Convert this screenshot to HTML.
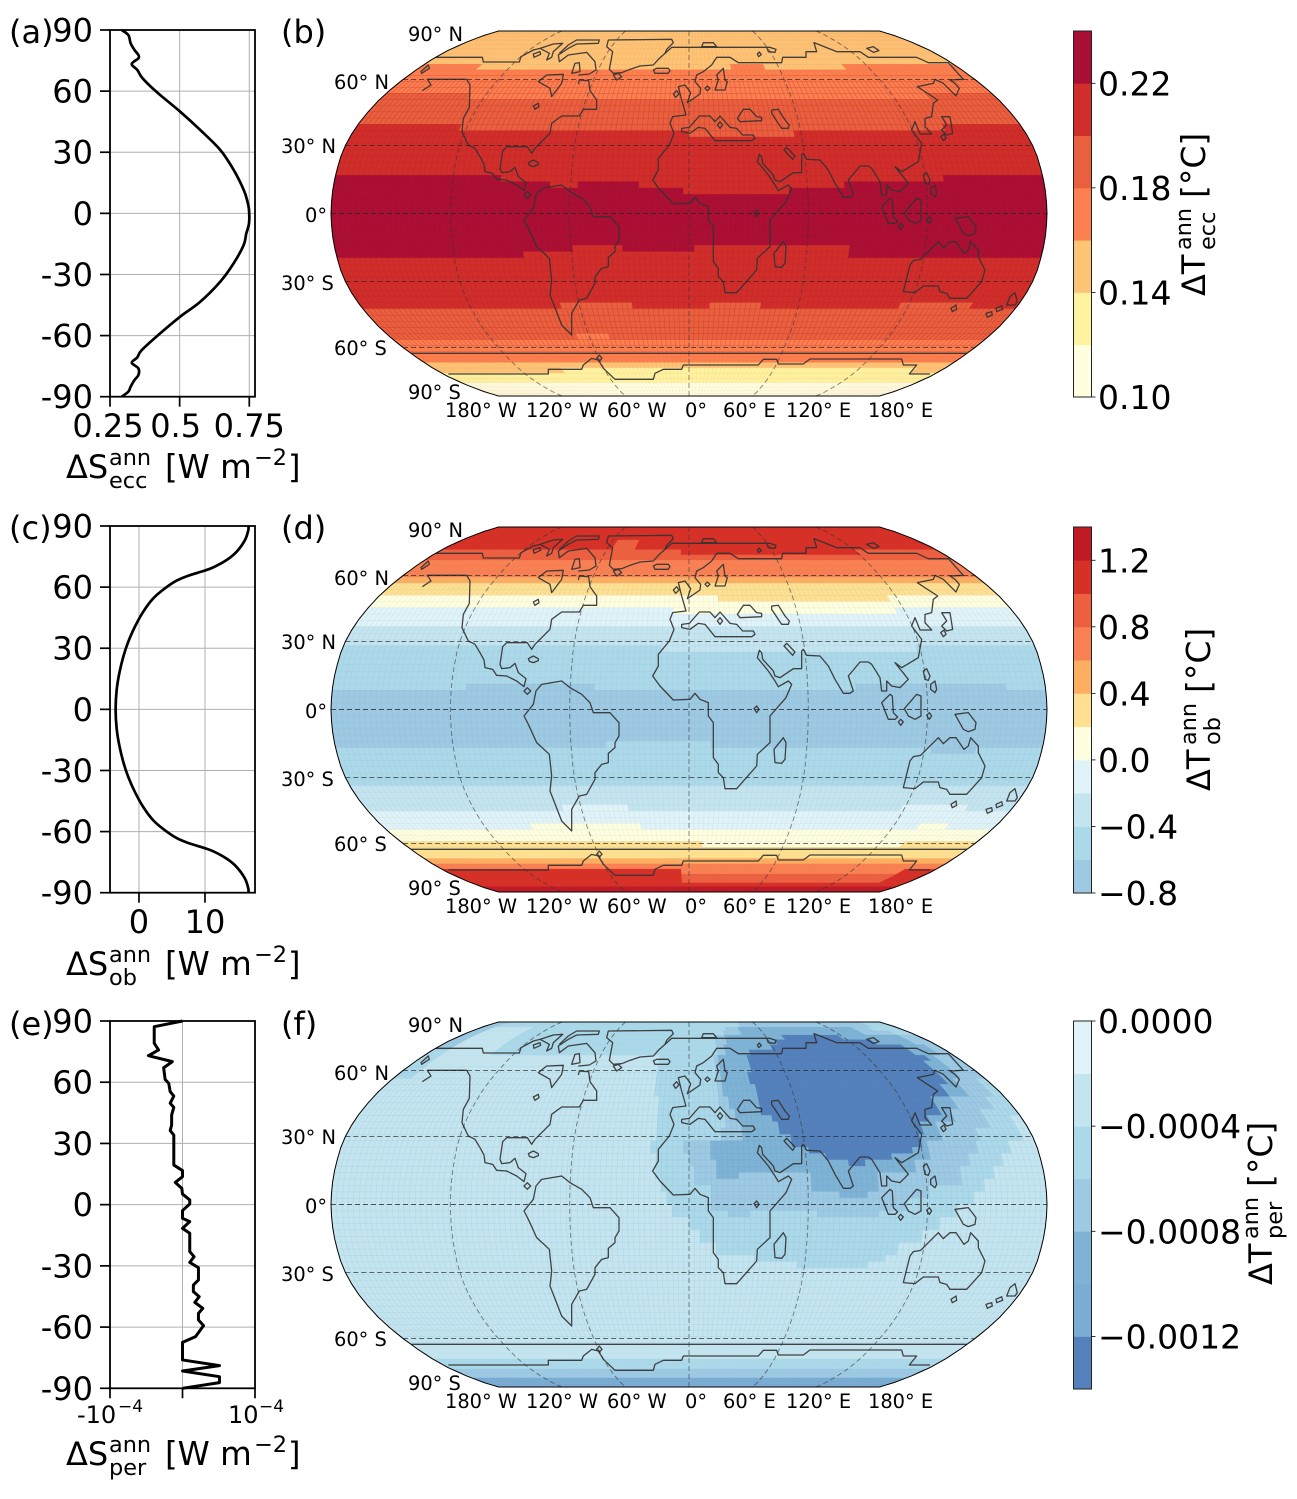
<!DOCTYPE html>
<html lang="en">
<head>
<meta charset="utf-8">
<title>Orbital forcing and temperature response</title>
<style>
html,body{margin:0;padding:0;background:#fff;}
svg{display:block;}
text{font-family:"DejaVu Sans","Liberation Sans",sans-serif;fill:#000;}
</style>
</head>
<body>
<svg id="figure" xmlns="http://www.w3.org/2000/svg" width="1297" height="1499" viewBox="0 0 1297 1499"></svg>
<script>
/* ---------- profile panels: latitude and zonal-mean forcing ---------- */
const latTicks = [90,60,30,0,-30,-60,-90];
const latTickLabels = ['90','60','30','0','-30','-60','-90'];

const eccLats = [90,87.5,83.5,80.2,77.7,76.1,73.3,70.4,66.8,62.5,58.1,49.9,40.9,31.1,21.3,11.5,6,1.6,-4.9,-10,-15.5,-24.5,-33.5,-43.4,-50.7,-58.9,-67.1,-70.7,-73.3,-76.1,-79.4,-81.8,-85.1,-87.5,-90];
const eccValues = [0.292,0.316,0.324,0.338,0.352,0.352,0.328,0.348,0.364,0.394,0.43,0.502,0.574,0.646,0.694,0.73,0.743,0.749,0.749,0.739,0.73,0.694,0.646,0.574,0.502,0.43,0.364,0.348,0.328,0.352,0.352,0.338,0.324,0.316,0.292];
const eccXTicks = [0.25,0.5,0.75];
const eccXLabels = ['0.25','0.5','0.75'];

const obLats = [90,88,83.1,77.4,73.3,69.7,67.9,65.6,63.2,59.4,54.5,48,40.6,33.2,25.9,17.7,9.5,0,-9.5,-17.7,-25.9,-33.2,-40.6,-48,-54.5,-59.4,-63.2,-65.6,-67.9,-69.7,-73.3,-77.4,-83.1,-88,-90];
const obValues = [16.57,16.57,16.06,14.8,13.28,11.26,9.75,7.47,5.71,3.94,2.17,0.66,-0.61,-1.62,-2.37,-2.98,-3.38,-3.54,-3.38,-2.98,-2.37,-1.62,-0.61,0.66,2.17,3.94,5.71,7.47,9.75,11.26,13.28,14.8,16.06,16.57,16.57];
const obXTicks = [0,10];
const obXLabels = ['0','10'];

const perLats = [90,87.2,79.1,75.8,73,70.1,67.1,61.4,59.5,55.4,53.2,49.7,47.7,43.9,39,36.3,34.1,19.4,16.7,13.7,10.9,8,5.2,2.3,0.3,-2.9,-6.7,-8.3,-11.6,-14,-23,-25.5,-28.3,-30.9,-36.9,-39.4,-42.6,-45.1,-47.9,-50.8,-53.3,-56.5,-59.3,-64.7,-67.5,-76.1,-78.9,-81.5,-84.3,-87.2,-90];
const perValues = [0,-0.39,-0.39,-0.33,-0.47,-0.14,-0.26,-0.24,-0.19,-0.17,-0.12,-0.17,-0.12,-0.15,-0.15,-0.17,-0.12,-0.12,0,0,-0.1,-0.01,0,0.1,0.1,0,0,0.1,0,0.1,0.1,0.16,0.1,0.22,0.22,0.15,0.15,0.23,0.17,0.28,0.22,0.22,0.29,0.18,0,0,0.51,0,0.51,0.51,0];
const perXTicks = [-1,0,1];

/* ---------- map panels: one value per latitude row (north to south), plus regional departures ---------- */
const levelsEcc = [0.10,0.12,0.14,0.16,0.18,0.20,0.22,0.24];
const coloursEcc = ['#ffffdf','#fff3a0','#fec476','#fb7f4f','#e8603e','#cf2e2b','#a90e35'];
const cbTicksEcc = [0.10,0.14,0.18,0.22];
const cbLabelsEcc = ['0.10','0.14','0.18','0.22'];
const zonalEcc = [
0.15,0.15,0.15,0.15,0.15,0.15,0.15,0.15,
0.17,0.17,0.17,0.17,0.17,
0.19,0.19,0.19,0.19,0.19,
0.21,0.21,0.21,0.21,0.21,0.21,0.21,0.21,
0.23,0.23,0.23,0.23,0.23,0.23,0.23,0.23,0.23,0.23,0.23,0.23,0.23,
0.21,0.21,0.21,0.21,0.21,0.21,0.21,0.21,
0.19,0.19,0.19,0.19,0.19,
0.17,0.17,0.17,0.17,
0.15,0.15,
0.13,0.13,
0.11,0.11,0.11,0.11];
/* rowFrom,rowTo,lonFrom,lonTo,value */
const regionsEcc = [
[8,8,-140,27,0.15],[8,8,51,104,0.15],
[13,13,-130,140,0.17],
[18,18,-123,138,0.19],[19,19,0,55,0.19],
[26,26,-97,129,0.21],
[27,27,-70,-56,0.21],[27,27,-26,79,0.21],
[28,28,-3,50,0.21],
[37,37,-60,-34,0.21],[37,37,3,81,0.21],
[38,38,-85,81,0.21],
[46,46,-71,-31,0.19],[46,46,11,39,0.19],[46,46,115,155,0.19],
[51,51,-67,-47,0.17],
[57,57,-89,161,0.13]];

const levelsOb = [-0.8,-0.6,-0.4,-0.2,0,0.2,0.4,0.6,0.8,1.0,1.2,1.4];
const coloursOb = ['#9dc9e2','#acd9e9','#c4e5ef','#e0f3f8','#ffffdf','#fee090','#fdae61','#f98052','#ec6040','#d73027','#c01a27'];
const cbTicksOb = [-0.8,-0.4,0,0.4,0.8,1.2];
const cbLabelsOb = ['\u22120.8','\u22120.4','0.0','0.4','0.8','1.2'];
const zonalOb = [
1.1,1.1,1.1,1.1,1.1,1.1,
0.9,0.9,
0.7,0.7,0.7,
0.5,
0.3,0.3,
0.1,0.1,
-0.1,-0.1,-0.1,
-0.3,-0.3,-0.3,
-0.5,-0.5,-0.5,-0.5,-0.5,-0.5,-0.5,
-0.7,-0.7,-0.7,-0.7,-0.7,-0.7,-0.7,-0.7,-0.7,
-0.5,-0.5,-0.5,-0.5,-0.5,-0.5,
-0.3,-0.3,-0.3,-0.3,
-0.1,-0.1,-0.1,
0.1,0.1,
0.3,0.3,0.3,
0.5,
0.7,
1.1,1.1,1.1,1.1,
1.3,1.3];
const regionsOb = [
[4,5,-56,-38,0.9],[6,6,-6,121,1.1],
[14,14,17,115,0.3],[16,16,-9,116,0.1],[22,22,-15,118,-0.3],
[28,28,-112,-48,-0.7],[28,28,84,160,-0.7],
[37,37,-41,11,-0.5],[38,38,123,147,-0.7],
[47,47,-71,-34,-0.1],[47,47,117,154,-0.1],
[50,50,-92,-28,0.1],[50,50,135,152,0.1],
[53,53,8,136,0.1],
[58,58,-7,157,0.7],[59,60,-7,157,0.9]];

const levelsPer = [-0.0014,-0.0012,-0.001,-0.0008,-0.0006,-0.0004,-0.0002,0];
const coloursPer = ['#5480bb','#7bacd3','#7fb3d5','#9dc9e3','#acd9e9','#c4e5ef','#e0f3f8'];
const cbTicksPer = [0,-0.0004,-0.0008,-0.0012];
const cbLabelsPer = ['0.0000','\u22120.0004','\u22120.0008','\u22120.0012'];
const zonalPer = [
-0.0005,-0.0005,
-0.0003,-0.0003,-0.0003,-0.0003,-0.0003,-0.0003,-0.0003,-0.0003,-0.0003,-0.0003,-0.0003,-0.0003,-0.0003,-0.0003,
-0.0003,-0.0003,-0.0003,-0.0003,-0.0003,-0.0003,-0.0003,-0.0003,-0.0003,-0.0003,-0.0003,-0.0003,-0.0003,-0.0003,
-0.0003,-0.0003,-0.0003,-0.0003,-0.0003,-0.0003,-0.0003,-0.0003,-0.0003,-0.0003,-0.0003,-0.0003,-0.0003,-0.0003,
-0.0003,-0.0003,-0.0003,-0.0003,-0.0003,-0.0003,-0.0003,-0.0003,-0.0003,-0.0003,-0.0003,-0.0003,-0.0003,
-0.0005,-0.0005,
-0.0007,-0.0007,
-0.0011,-0.0011,-0.0011];
const regionsPer = [
/* outer halo */
[2,7,-135,180,-0.0005],[8,14,-20,180,-0.0005],[15,17,-18,180,-0.0005],[18,21,-18,173,-0.0005],
[22,23,-20,165,-0.0005],[24,25,-18,160,-0.0005],[26,27,-16,154,-0.0005],[28,29,-14,148,-0.0005],
[30,31,-10,143,-0.0005],[32,33,-8,134,-0.0005],[34,35,0,126,-0.0005],[36,37,6,118,-0.0005],
[38,39,13,107,-0.0005],[40,40,33,101,-0.0005],[41,41,56,92,-0.0005],
[0,6,-180,-168,-0.0007],[7,8,-180,-168,-0.0005],[9,11,-180,-170,-0.0005],
/* second ring */
[0,1,46,160,-0.0007],[2,2,32,156,-0.0007],[3,3,28,166,-0.0007],[4,5,21,180,-0.0007],[6,7,19,180,-0.0007],
[8,9,17,180,-0.0007],[10,11,16,180,-0.0007],[12,14,16,175,-0.0007],[15,16,17,169,-0.0007],
[17,19,19,161,-0.0007],[20,21,18,151,-0.0007],[22,23,-3,150,-0.0007],[24,25,1,144,-0.0007],
[26,28,2,137,-0.0007],[29,30,11,120,-0.0007],[31,32,11,110,-0.0007],[33,33,20,31,-0.0007],[33,33,64,95,-0.0007],
/* third ring */
[2,3,42,140,-0.0009],[4,5,29,167,-0.0009],[6,7,25,172,-0.0009],[8,9,20,165,-0.0009],[10,11,20,167,-0.0009],
[12,14,20,159,-0.0009],[15,16,23,150,-0.0009],[17,18,24,144,-0.0009],[19,21,27,133,-0.0009],
[22,24,11,125,-0.0009],[25,26,14,115,-0.0009],[27,27,14,25,-0.0009],[27,27,62,95,-0.0009],[28,29,61,97,-0.0009],[30,30,76,91,-0.0009],
/* core */
[4,4,72,117,-0.0013],[5,5,64,139,-0.0013],[6,6,58,154,-0.0013],[7,7,43,156,-0.0013],[8,8,38,160,-0.0013],
[9,10,38,156,-0.0013],[11,12,37,154,-0.0013],[13,14,38,148,-0.0013],[15,17,38,138,-0.0013],[18,18,44,128,-0.0013],
[19,20,48,124,-0.0013],[21,22,54,120,-0.0013],[23,23,61,114,-0.0013],[24,24,71,105,-0.0013],[25,25,81,91,-0.0013]];

/* Base-map coastline, low-resolution land-mask contour (drawn in a 3x reference frame) */
const coastlines = [
'M307,212L333,195L322,178L385,178L440,178L450,195L448,262L430,295L426,335L445,375L465,385L480,410L492,432L495,455L518,460L530,478L560,480L590,495L612,512L618,488L595,470L585,442L570,455L545,458L540,445L548,392L560,380L622,380L635,400L645,385L690,340L695,310L725,288L778,288L790,268L830,268L830,240L810,212L806,182L778,180L775,192',
'M345,112L487,112L490,126L598,126L603,110L640,90L660,85L700,72L728,70L700,95L695,112L680,120L688,100L660,85',
'M303,155L325,135L328,145L305,160Z',
'M775,165L808,162L828,150L825,125L800,97L745,105L718,125L715,105L745,85L770,72L835,70L838,60L770,60L745,75L718,100',
'M655,185L680,165L730,163L725,190L695,230L690,205Z',
'M755,160L765,130L778,128L780,155Z',
'M640,102L660,95L662,103L642,112Z',
'M865,60L1055,58L1060,68L1040,88L1035,100L1018,115L1000,135L960,138L930,148L905,158L880,160L868,148L878,95L860,80Z',
'M880,165L895,160L905,170L890,180Z',
'M1000,150L1010,145L1045,145L1050,152L1045,160L1005,160Z',
'M1035,100L1055,82L1350,82L1368,88L1365,97L1345,95L1340,82',
'M1145,80L1150,68L1180,68L1190,80Z',
'M1312,102L1318,96L1324,104L1316,110Z',
'M1640,85L1660,80L1677,92L1660,97Z',
'M1050,310L1058,290L1098,285L1085,240L1075,200L1095,195L1112,218L1102,248L1140,222L1142,205L1125,185L1130,165L1150,155L1175,135L1190,112L1230,112L1255,128L1385,128L1388,112L1458,112L1458,95L1490,95L1482,68L1550,95L1620,95L1645,112L1790,112L1825,128L1885,128L1930,178L1890,180L1905,190L1918,205L1908,228L1870,190L1845,178L1840,190L1792,200L1853,240L1840,250L1835,290L1815,295L1815,320L1835,342L1800,342L1785,305L1775,330L1805,370L1795,425L1770,440L1745,455L1725,440L1765,490L1740,515L1715,510L1700,495L1700,525L1685,525L1680,485L1655,445L1645,438L1620,438L1585,480L1600,525L1590,532L1570,532L1545,490L1525,450L1500,420L1460,418L1450,400L1445,405L1445,458L1420,458L1380,485L1365,480L1360,465L1328,430L1325,410L1318,403L1312,425L1345,465L1365,495L1375,512L1405,495L1415,505L1398,545L1350,600L1350,680L1312,715L1310,750L1250,818L1215,818L1210,785L1195,770L1195,745L1180,725L1180,620L1165,600L1165,560L1140,550L1125,532L1110,550L1060,552L1020,510L998,480L1015,450L1015,415L1048,375L1062,340L1050,310Z',
'M1108,322L1138,288L1170,288L1185,305L1200,288L1230,322L1250,325L1268,345L1300,345L1305,355L1295,362L1185,362L1155,325L1135,322L1110,340L1085,335L1085,325Z',
'M1060,222L1070,212L1077,222L1067,232Z',
'M1155,205L1162,198L1170,205L1162,212Z',
'M1190,165L1210,145L1215,180L1222,185L1215,210L1185,210L1195,180Z',
'M1252,295L1270,268L1290,268L1310,290L1325,292L1325,302L1260,305Z',
'M1355,270L1375,268L1395,300L1408,315L1405,325L1385,325L1355,280Z',
'M1192,315L1200,305L1208,315L1200,325Z',
'M1392,390L1400,382L1425,408L1418,418Z',
'M1865,290L1890,290L1898,340L1880,345L1865,330L1880,315Z',
'M1862,350L1872,342L1878,355L1870,362Z',
'M1810,465L1820,458L1830,480L1825,493L1815,490Z',
'M1832,505L1845,495L1850,520L1845,530L1832,520Z',
'M1685,560L1710,535L1717,540L1720,590L1733,603L1725,610L1705,610Z',
'M1753,578L1790,535L1803,540L1803,600L1785,610L1765,600Z',
'M1735,618L1742,610L1750,618L1742,628Z',
'M1820,598L1828,590L1835,600L1828,610Z',
'M1905,595L1945,590L1968,620L1965,640L1945,647L1930,640Z',
'M1750,815L1770,735L1780,722L1802,718L1855,665L1870,683L1890,665L1908,665L1932,700L1945,690L1952,665L1975,690L1975,710L1995,750L1985,785L1940,835L1890,835L1880,820L1860,815L1855,798L1810,798L1785,818Z',
'M1893,865L1908,855L1910,868L1897,875Z',
'M2060,855L2070,830L2085,818L2092,845L2085,855Z',
'M2028,865L2045,857L2048,868L2030,875Z',
'M1998,880L2015,875L2017,885L2002,892Z',
'M1362,700L1390,665L1398,680L1395,730L1385,742L1365,740Z',
'M1302,578L1310,570L1317,580L1310,590Z',
'M612,600L640,565L648,525L665,505L725,495L750,515L785,535L810,560L820,590L870,590L897,620L897,660L885,680L885,695L865,712L865,740L845,745L825,770L825,790L800,835L778,840L755,880L755,945L725,915L690,825L695,780L688,715L650,680L625,625Z',
'M625,428L640,420L655,428L655,434L640,440L628,436Z',
'M612,525L622,515L632,525L622,535Z',
'M640,258L655,250L657,260L645,268Z',
'M250,1000L1950,1000',
'M385,1062L685,1062L685,1048L785,1048L790,1035L815,1015L835,1020L850,1045L885,1078L1000,1078L1005,1060L1030,1048L1085,1048L1090,1035L1315,1035L1330,1018L1370,1018L1375,1032L1450,1032L1470,1017L1745,1017L1750,1035L1790,1035L1768,1062L1830,1062',
'M830,1015L838,1005L846,1015L838,1023Z'];

/* ---------- helpers ---------- */
const NS = 'http://www.w3.org/2000/svg';
const fig = document.getElementById('figure');
function node(tag, parent, attrs, name) {
  const el = document.createElementNS(NS, tag);
  for (const k in attrs) el.setAttribute(k, attrs[k]);
  
  
  parent.appendChild(el);
  return el;
}
function label(parent, str, x, y, size, anchor, name) {
  const el = node('text', parent, {x:x, y:y, 'font-size':size, 'text-anchor':anchor || 'start'}, name);
  el.textContent = str;
  return el;
}

/* Robinson projection table */
const robX = [1,0.9986,0.9954,0.99,0.9822,0.973,0.96,0.9427,0.9216,0.8962,0.8679,0.835,0.7986,0.7597,0.7186,0.6732,0.6213,0.5722,0.5322];
const robY = [0,0.062,0.124,0.186,0.248,0.31,0.372,0.434,0.4958,0.5571,0.6176,0.6769,0.7346,0.7903,0.8435,0.8936,0.9394,0.9761,1];
function rob(lon, lat, top) {
  const a = Math.min(Math.abs(lat), 90) / 5;
  const i = Math.min(Math.floor(a), 17);
  const f = a - i;
  const X = robX[i] + (robX[i+1] - robX[i]) * f;
  const Y = robY[i] + (robY[i+1] - robY[i]) * f;
  return [689 + 358 * X * lon / 180, top + 182.5 - Math.sign(lat) * 182.5 * Y];
}
function pathFrom(pts, close) {
  return 'M' + pts.map(p => p[0].toFixed(2) + ',' + p[1].toFixed(2)).join('L') + (close ? 'Z' : '');
}
function smoothPath(pts) {
  let d = 'M' + pts[0][0].toFixed(2) + ',' + pts[0][1].toFixed(2);
  for (let i = 0; i < pts.length - 1; i++) {
    const p0 = pts[Math.max(i - 1, 0)], p1 = pts[i], p2 = pts[i + 1], p3 = pts[Math.min(i + 2, pts.length - 1)];
    const c1x = p1[0] + (p2[0] - p0[0]) / 6, c1y = p1[1] + (p2[1] - p0[1]) / 6;
    const c2x = p2[0] - (p3[0] - p1[0]) / 6, c2y = p2[1] - (p3[1] - p1[1]) / 6;
    d += 'C' + c1x.toFixed(2) + ',' + c1y.toFixed(2) + ' ' + c2x.toFixed(2) + ',' + c2y.toFixed(2) + ' ' + p2[0].toFixed(2) + ',' + p2[1].toFixed(2);
  }
  return d;
}

/* ---------- profile panel ---------- */
function drawProfile(spec) {
  const g = node('g', fig, {}, spec.name);
  const L = 110, R = 255, T = spec.top, B = spec.bottom;
  const px = v => L + (v - spec.xMin) * (R - L) / (spec.xMax - spec.xMin);
  const py = lat => T + (90 - lat) * (B - T) / 180;
  latTicks.forEach((t, i) => {
    if (Math.abs(t) < 90) node('line', g, {x1:L, x2:R, y1:py(t), y2:py(t), stroke:'#b0b0b0', 'stroke-width':1}, 'lat-gridline');
    node('line', g, {x1:L-10, x2:L, y1:py(t), y2:py(t), stroke:'#000', 'stroke-width':1.7}, 'lat-tick');
    label(g, latTickLabels[i], 93, py(t) + 11.5, 32, 'end', 'lat-tick-label');
  });
  spec.xTicks.forEach(t => {
    if (px(t) > L + 1 && px(t) < R - 1) node('line', g, {x1:px(t), x2:px(t), y1:T, y2:B, stroke:'#b0b0b0', 'stroke-width':1}, 'x-gridline');
    node('line', g, {x1:px(t), x2:px(t), y1:B, y2:B+10, stroke:'#000', 'stroke-width':1.7}, 'x-tick');
  });
  const pts = spec.lats.map((lat, i) => [px(spec.values[i]), py(lat)]);
  node('path', g, {d:spec.smooth ? smoothPath(pts) : pathFrom(pts), fill:'none', stroke:'#000', 'stroke-width':spec.lineWidth, 'stroke-linejoin':'round'}, spec.lineName);
  node('rect', g, {x:L, y:T, width:R-L, height:B-T, fill:'none', stroke:'#000', 'stroke-width':1.8}, 'axes-frame');
  return {g:g, px:px};
}
function axisTitle(baseY, sub, name) {
  const g = node('g', fig, {}, name);
  label(g, '\u0394S', 66, baseY, 32, 'start', 'title-symbol');
  label(g, 'ann', 109, baseY - 13, 22.4, 'start', 'title-superscript');
  label(g, sub, 109, baseY + 10, 22.4, 'start', 'title-subscript');
  label(g, '[W m', 165, baseY, 32.5, 'start', 'title-unit');
  label(g, '\u22122', 254, baseY - 13, 22.4, 'start', 'title-unit-exponent');
  label(g, ']', 288, baseY, 32, 'start', 'title-unit-close');
}

/* ---------- map panel ---------- */
const ROWS = 64, COLS = 128, DLAT = 180 / ROWS, DLON = 360 / COLS;
let clipCount = 0;
function drawMap(spec) {
  const g = node('g', fig, {}, spec.name);
  const top = spec.top;
  const outline = [];
  for (let lat = 90; lat >= -90; lat -= 2.5) outline.push(rob(180, lat, top));
  for (let lat = -90; lat <= 90; lat += 2.5) outline.push(rob(-180, lat, top));
  const outlineD = pathFrom(outline, true);
  const clipId = 'map-clip-' + (++clipCount);
  const clip = node('clipPath', g, {id:clipId}, 'map-clip');
  node('path', clip, {d:outlineD}, 'map-clip-shape');
  node('path', g, {d:outlineD, fill:spec.colours[0]}, 'map-background');
  const cells = node('g', g, {'clip-path':'url(#' + clipId + ')'}, 'map-field');
  const colourOf = v => {
    for (let i = 0; i < spec.colours.length; i++) if (v <= spec.levels[i+1]) return spec.colours[i];
    return spec.colours[spec.colours.length - 1];
  };
  for (let r = 0; r < ROWS; r++) {
    const latN = 90 - r * DLAT, latS = latN - DLAT;
    const cols = [];
    for (let c = 0; c < COLS; c++) {
      const lon = -180 + (c + 0.5) * DLON;
      let v = spec.zonal[r];
      spec.regions.forEach(p => { if (r >= p[0] && r <= p[1] && lon >= p[2] && lon <= p[3]) v = p[4]; });
      cols.push(v);
    }
    let start = 0;
    for (let c = 1; c <= COLS; c++) {
      if (c === COLS || colourOf(cols[c]) !== colourOf(cols[start])) {
        const a = -180 + start * DLON, b = -180 + c * DLON;
        const poly = [rob(a, latN, top), rob(b, latN, top), rob(b, latS, top), rob(a, latS, top)];
        const col = colourOf(cols[start]);
        node('path', cells, {d:pathFrom(poly, true), fill:col, stroke:col, 'stroke-width':0.5}, 'temperature-cell-run');
        start = c;
      }
    }
  }
  /* cell mesh: fainter toward the poles where meridians converge */
  let meshCore = '', meshPolar = '';
  for (let r = 0; r <= ROWS; r++) {
    const lat = 90 - r * DLAT, seg = pathFrom([rob(-180, lat, top), rob(180, lat, top)]);
    if (Math.abs(lat) <= 62) meshCore += seg; else meshPolar += seg;
  }
  for (let c = 0; c <= COLS; c++) {
    const lon = -180 + c * DLON, core = [], north = [], south = [];
    for (let lat = 90; lat >= -90; lat -= 5) {
      if (lat >= 60) north.push(rob(lon, lat, top));
      if (lat <= 60 && lat >= -60) core.push(rob(lon, lat, top));
      if (lat <= -60) south.push(rob(lon, lat, top));
    }
    meshCore += pathFrom(core);
    meshPolar += pathFrom(north) + pathFrom(south);
  }
  node('path', cells, {d:meshCore, fill:'none', stroke:spec.mesh, 'stroke-opacity':spec.meshOpacity, 'stroke-width':0.6}, 'cell-mesh');
  node('path', cells, {d:meshPolar, fill:'none', stroke:spec.mesh, 'stroke-opacity':spec.meshOpacity * 0.25, 'stroke-width':0.5}, 'cell-mesh-polar');
  /* coastlines */
  const coast = node('g', cells, {transform:'translate(320 ' + (top - 11) + ') scale(0.33333)'}, 'coastlines');
  coastlines.forEach(d => {
    node('path', coast, {d:d, fill:'none', stroke:'#333', 'stroke-width':1.3, 'stroke-opacity':0.92, 'vector-effect':'non-scaling-stroke', 'stroke-linejoin':'round'}, 'coastline');
  });
  /* graticule */
  [60,30,0,-30,-60].forEach(lat => {
    node('path', cells, {d:pathFrom([rob(-180, lat, top), rob(180, lat, top)]), fill:'none', stroke:'#222', 'stroke-opacity':0.75, 'stroke-width':0.9, 'stroke-dasharray':'5 3'}, 'parallel-gridline');
  });
  [-120,-60,0,60,120].forEach(lon => {
    const pts = [];
    for (let lat = 90; lat >= -90; lat -= 5) pts.push(rob(lon, lat, top));
    node('path', cells, {d:pathFrom(pts), fill:'none', stroke:'#333', 'stroke-opacity':0.62, 'stroke-width':0.9, 'stroke-dasharray':'5 3'}, 'meridian-gridline');
  });
  node('path', g, {d:outlineD, fill:'none', stroke:'#000', 'stroke-width':1}, 'map-outline');
  /* graticule labels */
  const dy = top - 31;
  [['90\u00b0 N',408,41],['60\u00b0 N',334,89],['30\u00b0 N',281,153],['0\u00b0',305,222],['30\u00b0 S',281,290],['60\u00b0 S',334,355],['90\u00b0 S',408,399]].forEach(t => {
    label(g, t[0], t[1], t[2] + dy, 19.4, 'start', 'latitude-label');
  });
  [['180\u00b0 W',445],['120\u00b0 W',526],['60\u00b0 W',607],['0\u00b0',685],['60\u00b0 E',723],['120\u00b0 E',786],['180\u00b0 E',868]].forEach(t => {
    label(g, t[0], t[1], 417 + dy, 19.4, 'start', 'longitude-label');
  });
}

/* ---------- colour bar ---------- */
function drawColorbar(spec) {
  const g = node('g', fig, {}, spec.name);
  const L = 1073.5, R = 1091.5, T = spec.top, B = spec.bottom;
  const lo = spec.levels[0], hi = spec.levels[spec.levels.length - 1];
  const py = v => B - (v - lo) * (B - T) / (hi - lo);
  spec.colours.forEach((c, i) => {
    node('rect', g, {x:L, y:py(spec.levels[i+1]), width:R-L, height:py(spec.levels[i]) - py(spec.levels[i+1]) + 0.4, fill:c}, 'colorbar-level');
  });
  node('rect', g, {x:L, y:T, width:R-L, height:B-T, fill:'none', stroke:'#222', 'stroke-width':1}, 'colorbar-frame');
  spec.ticks.forEach((t, i) => {
    node('line', g, {x1:R, x2:R+4, y1:py(t), y2:py(t), stroke:'#000', 'stroke-width':0.8}, 'colorbar-tick');
    label(g, spec.tickLabels[i], 1098, py(t) + 12, 33, 'start', 'colorbar-tick-label');
  });
  const t = node('g', g, {transform:'translate(' + spec.titleX + ' ' + spec.titleY + ') rotate(-90)'}, 'colorbar-title');
  label(t, '\u0394T', 0, 0, 32, 'start', 'colorbar-title-symbol');
  label(t, 'ann', 46, -14, 22.4, 'start', 'colorbar-title-superscript');
  label(t, spec.sub, 46, 10, 22.4, 'start', 'colorbar-title-subscript');
  label(t, '[\u00b0C]', 98, 0, 33, 'start', 'colorbar-title-unit');
}

/* ---------- build ---------- */
const a = drawProfile({name:'panel-a-eccentricity-forcing', top:30, bottom:396.7, xMin:0.25, xMax:0.7705, xTicks:eccXTicks, lats:eccLats, values:eccValues, lineWidth:2.7, smooth:true, lineName:'eccentricity-forcing-line'});
eccXTicks.forEach((t, i) => {
  const shift = i === 0 ? -2 : (i === 1 ? -4 : 0);
  label(a.g, eccXLabels[i], a.px(t) + shift, 437, 32, 'middle', 'x-tick-label');
});
axisTitle(478, 'ecc', 'panel-a-x-axis-title');
label(fig, '(a)', 9, 43, 32, 'start', 'panel-a-label');

const c = drawProfile({name:'panel-c-obliquity-forcing', top:526, bottom:892.7, xMin:-4.39, xMax:17.58, xTicks:obXTicks, lats:obLats, values:obValues, lineWidth:2.7, smooth:true, lineName:'obliquity-forcing-line'});
obXTicks.forEach((t, i) => {
  label(c.g, obXLabels[i], c.px(t), 933, 32, 'middle', 'x-tick-label');
});
axisTitle(975, 'ob', 'panel-c-x-axis-title');
label(fig, '(c)', 9, 539, 32, 'start', 'panel-c-label');

const e = drawProfile({name:'panel-e-precession-forcing', top:1021, bottom:1388.3, xMin:-1, xMax:1, xTicks:perXTicks, lats:perLats, values:perValues, lineWidth:3, lineName:'precession-forcing-line'});
label(e.g, '-10', 77, 1423, 24, 'start', 'x-tick-label');
label(e.g, '\u22124', 118, 1412, 17, 'start', 'x-tick-exponent');
label(e.g, '10', 228, 1423, 24, 'start', 'x-tick-label');
label(e.g, '\u22124', 259, 1412, 17, 'start', 'x-tick-exponent');
axisTitle(1465, 'per', 'panel-e-x-axis-title');
label(fig, '(e)', 9, 1035, 32, 'start', 'panel-e-label');

drawMap({name:'panel-b-eccentricity-temperature-map', top:31, levels:levelsEcc, colours:coloursEcc, zonal:zonalEcc, regions:regionsEcc, mesh:'#be1e23', meshOpacity:0.38});
label(fig, '(b)', 281, 43, 32, 'start', 'panel-b-label');
drawColorbar({name:'panel-b-colorbar', top:31, bottom:397, levels:levelsEcc, colours:coloursEcc, ticks:cbTicksEcc, tickLabels:cbLabelsEcc, titleX:1205, titleY:296, sub:'ecc'});

drawMap({name:'panel-d-obliquity-temperature-map', top:527, levels:levelsOb, colours:coloursOb, zonal:zonalOb, regions:regionsOb, mesh:'#7896b4', meshOpacity:0.14});
label(fig, '(d)', 281, 539, 32, 'start', 'panel-d-label');
drawColorbar({name:'panel-d-colorbar', top:527, bottom:893, levels:levelsOb, colours:coloursOb, ticks:cbTicksOb, tickLabels:cbLabelsOb, titleX:1210, titleY:791, sub:'ob'});

drawMap({name:'panel-f-precession-temperature-map', top:1022, levels:levelsPer, colours:coloursPer, zonal:zonalPer, regions:regionsPer, mesh:'#4678aa', meshOpacity:0.13});
label(fig, '(f)', 281, 1035, 32, 'start', 'panel-f-label');
drawColorbar({name:'panel-f-colorbar', top:1021, bottom:1389, levels:levelsPer, colours:coloursPer, ticks:cbTicksPer, tickLabels:cbLabelsPer, titleX:1272, titleY:1285, sub:'per'});
</script>
</body>
</html>
